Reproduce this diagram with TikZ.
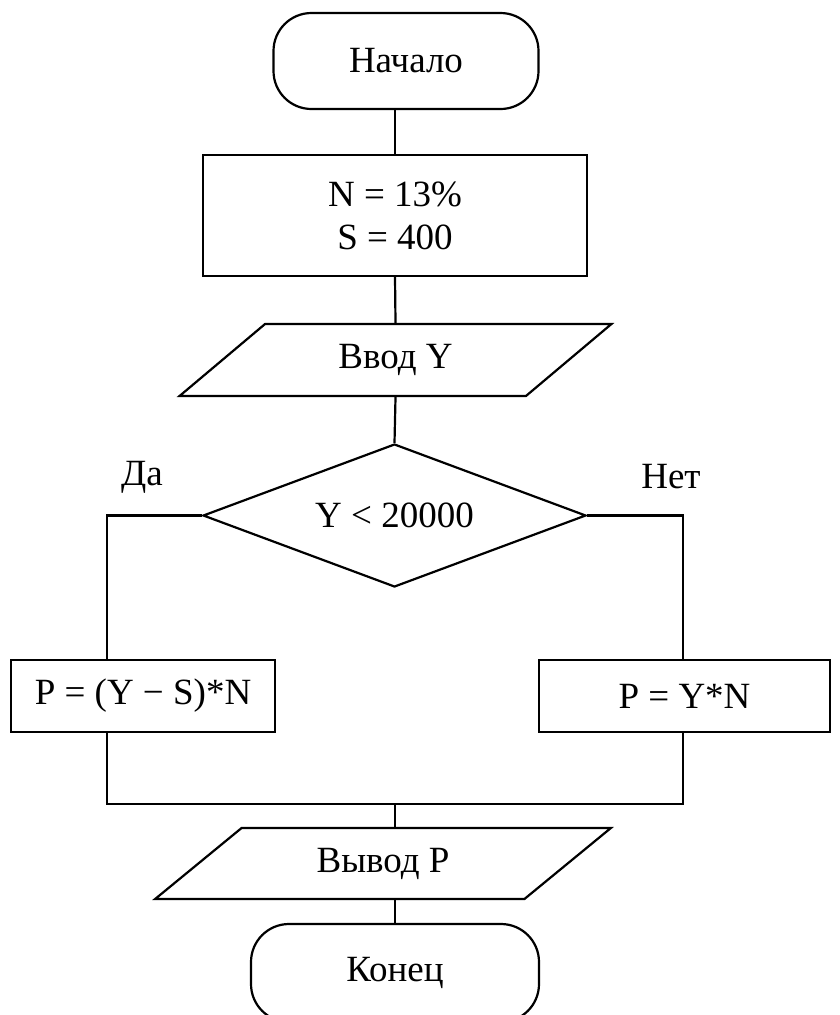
\documentclass[tikz,border=0pt]{standalone}
\usepackage{fontspec}
\setmainfont{Liberation Serif}
\usetikzlibrary{shapes.geometric}

\begin{document}
\begin{tikzpicture}[x=1pt, y=-1pt, line width=2.2pt,
    every node/.style={font=\fontsize{37}{43}\selectfont, line width=2.2pt},
    term/.style={draw, rectangle, rounded corners=38pt, minimum width=#1, minimum height=96pt, inner sep=0pt},
    proc/.style={draw, rectangle, minimum height=72pt, inner sep=0pt},
    io/.style={draw, trapezium, trapezium stretches=true, inner sep=0pt},
    cond/.style={draw, diamond, aspect=2.68, minimum width=383pt, minimum height=143pt, inner sep=0pt}]
      \useasboundingbox (0,0) rectangle (840,1015);
      \node[term=265pt] (start) at (406,61) {Начало};
      \node[proc, minimum width=384pt, minimum height=121pt, align=center] (init) at (395,215.5) {N = 13\%\\S = 400};
      \node[io, trapezium left angle=40, trapezium right angle=140, minimum width=433pt, minimum height=72pt] (inp) at (395.5,360) {Ввод Y};
      \node[cond] (test) at (394.5,515.5) {Y < 20000};
      \node (yes) at (142,477) {Да};
      \node (no) at (671,477) {Нет};
      \node[proc, minimum width=264pt] (calcyes) at (143,696) {P = (Y − S)*N};
      \node[proc, minimum width=291pt] (calcno) at (684.5,696) {P = Y*N};
      \node[io, trapezium left angle=37.7, trapezium right angle=142.3, minimum width=456pt, minimum height=71pt] (outp) at (383,863.5) {Вывод P};
      \node[term=288pt, minimum height=98pt] (stop) at (395,973) {Конец};
      \coordinate (lcorner) at (107,515.5);
      \coordinate (rcorner) at (683,515.5);
      \coordinate (lfoot) at (107,804);
      \coordinate (rfoot) at (683,804);
      \coordinate (join) at (395,804);
      \draw (init.north |- start.south) -- (init.north);
      \draw (init.south) -- (inp.north);
      \draw (inp.south) -- (test.north);
      \draw (test.west) -- (lcorner) -- (lcorner |- calcyes.north);
      \draw (test.east) -- (rcorner) -- (rcorner |- calcno.north);
      \draw (lcorner |- calcyes.south) -- (lfoot) -- (rfoot) -- (rcorner |- calcno.south);
      \draw (join) -- (join |- outp.north);
      \draw (join |- outp.south) -- (stop.north);
    \end{tikzpicture}
\end{document}
